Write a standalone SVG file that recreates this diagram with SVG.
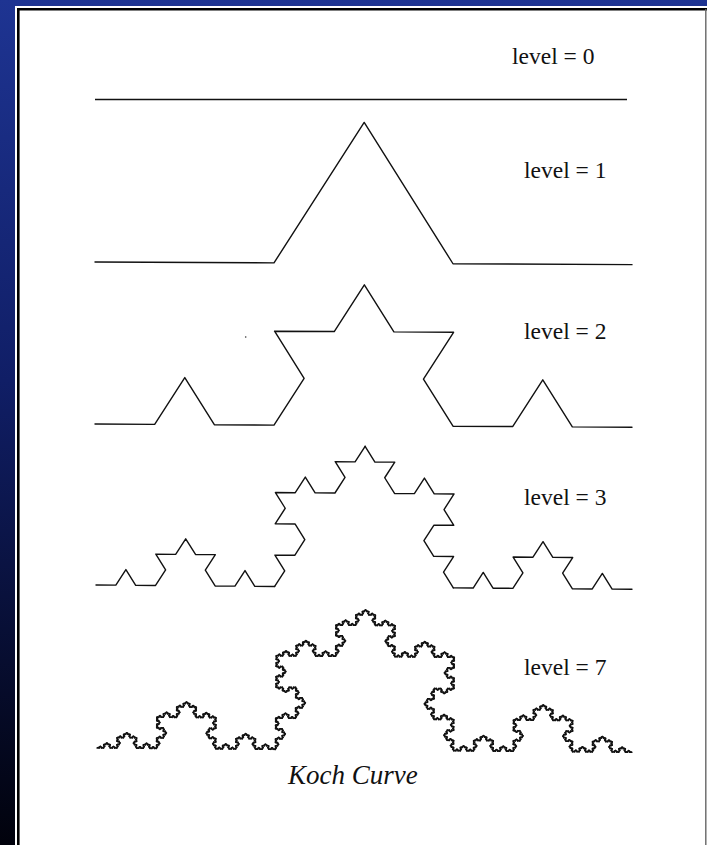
<svg xmlns="http://www.w3.org/2000/svg" xmlns:xlink="http://www.w3.org/1999/xlink" width="707" height="845" viewBox="0 0 707 845">
<style>
.curve{fill:none;stroke:#111;stroke-width:1.4;stroke-linejoin:round;stroke-linecap:round;vector-effect:non-scaling-stroke}
.lbl{font-family:"Liberation Serif","Times New Roman",serif;font-size:23.5px;fill:#111}
.title{font-family:"Liberation Serif","Times New Roman",serif;font-size:27px;font-style:italic;fill:#111}
</style>
<defs>
<linearGradient id="bg" x1="0" y1="0" x2="0" y2="1">
<stop offset="0" stop-color="#1e3492"/>
<stop offset="0.45" stop-color="#101e66"/>
<stop offset="1" stop-color="#01020c"/>
</linearGradient>
<polyline id="k1" class="curve" points="0,0 0.333333,0 0.5,-0.288675 0.666667,0 1,0"/>
<polyline id="k2" class="curve" points="0,0 0.111111,0 0.166667,-0.096225 0.222222,0 0.333333,0 0.388889,-0.096225 0.333333,-0.19245 0.444444,-0.19245 0.5,-0.288675 0.555556,-0.19245 0.666667,-0.19245 0.611111,-0.096225 0.666667,0 0.777778,0 0.833333,-0.096225 0.888889,0 1,0"/>
<g id="k3">
<use href="#k2" transform="scale(0.333333)"/>
<use href="#k2" transform="translate(0.333333,0) rotate(-60) scale(0.333333)"/>
<use href="#k2" transform="translate(0.5,-0.288675) rotate(60) scale(0.333333)"/>
<use href="#k2" transform="translate(0.666667,0) scale(0.333333)"/>
</g>
<g id="k4">
<use href="#k3" transform="scale(0.333333)"/>
<use href="#k3" transform="translate(0.333333,0) rotate(-60) scale(0.333333)"/>
<use href="#k3" transform="translate(0.5,-0.288675) rotate(60) scale(0.333333)"/>
<use href="#k3" transform="translate(0.666667,0) scale(0.333333)"/>
</g>
<g id="k5">
<use href="#k4" transform="scale(0.333333)"/>
<use href="#k4" transform="translate(0.333333,0) rotate(-60) scale(0.333333)"/>
<use href="#k4" transform="translate(0.5,-0.288675) rotate(60) scale(0.333333)"/>
<use href="#k4" transform="translate(0.666667,0) scale(0.333333)"/>
</g>
<g id="k6">
<use href="#k5" transform="scale(0.333333)"/>
<use href="#k5" transform="translate(0.333333,0) rotate(-60) scale(0.333333)"/>
<use href="#k5" transform="translate(0.5,-0.288675) rotate(60) scale(0.333333)"/>
<use href="#k5" transform="translate(0.666667,0) scale(0.333333)"/>
</g>
<g id="k7">
<use href="#k6" transform="scale(0.333333)"/>
<use href="#k6" transform="translate(0.333333,0) rotate(-60) scale(0.333333)"/>
<use href="#k6" transform="translate(0.5,-0.288675) rotate(60) scale(0.333333)"/>
<use href="#k6" transform="translate(0.666667,0) scale(0.333333)"/>
</g>
</defs>
<rect x="0" y="0" width="707" height="845" fill="url(#bg)"/>
<rect x="15" y="6" width="692" height="839" fill="#fff"/>
<path d="M18.3,845 V9.3 H707" fill="none" stroke="#000" stroke-width="2.6"/>
<line x1="705.8" y1="9" x2="705.8" y2="845" stroke="#666" stroke-width="1.4"/>
<g id="level0">
<line x1="95" y1="99.5" x2="627" y2="99.5" stroke="#111" stroke-width="1.7"/>
<text class="lbl" x="512" y="64">level = 0</text>
</g>
<g id="level1">
<use href="#k1" transform="translate(95,262) rotate(0.28) scale(537,488)"/>
<text class="lbl" x="524" y="178">level = 1</text>
</g>
<g id="level2">
<use href="#k2" transform="translate(95,424) rotate(0.35) scale(537,488)"/>
<circle cx="245.7" cy="337" r="0.8" fill="#333"/>
<text class="lbl" x="524" y="339">level = 2</text>
</g>
<g id="level3">
<use href="#k3" transform="translate(96,585) rotate(0.46) scale(536,488)"/>
<text class="lbl" x="524" y="505">level = 3</text>
</g>
<g id="level7">
<use href="#k7" transform="translate(97,748) rotate(0.46) scale(535,486)"/>
<text class="lbl" x="524" y="675">level = 7</text>
</g>
<g id="caption">
<text class="title" x="288" y="784">Koch Curve</text>
</g>
</svg>
